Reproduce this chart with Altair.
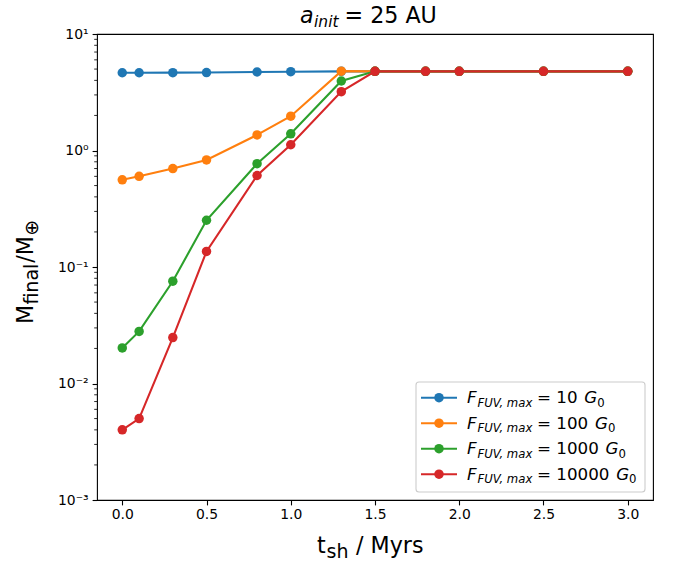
import altair as alt
import pandas as pd

# ---------------- data ----------------
t_sh = [0.0, 0.1, 0.3, 0.5, 0.8, 1.0, 1.3, 1.5, 1.8, 2.0, 2.5, 3.0]
m_10 = [4.65, 4.65, 4.66, 4.67, 4.72, 4.75, 4.78, 4.78, 4.78, 4.78, 4.78, 4.78]
m_100 = [0.56, 0.60, 0.70, 0.83, 1.36, 1.97, 4.80, 4.78, 4.78, 4.78, 4.78, 4.78]
m_1000 = [0.0202, 0.0280, 0.0755, 0.252, 0.77, 1.39, 3.95, 4.78, 4.78, 4.78, 4.78, 4.78]
m_10000 = [0.0040, 0.0050, 0.0248, 0.136, 0.61, 1.12, 3.20, 4.78, 4.78, 4.78, 4.78, 4.78]
series = [m_10, m_100, m_1000, m_10000]
fuv_levels = ['10', '100', '1000', '10000']
colors = ['#1f77b4', '#ff7f0e', '#2ca02c', '#d62728']

x_ticks = [0.0, 0.5, 1.0, 1.5, 2.0, 2.5, 3.0]
y_ticks = [0.001, 0.01, 0.1, 1, 10]
y_tick_labels = ['10⁻³', '10⁻²', '10⁻¹', '10⁰', '10¹']
y_minor = [m * 10.0 ** k for k in range(-3, 1) for m in range(2, 10)]

# ---------------- layout ----------------
W, H = 556, 466
FONT = 'DejaVu Sans'
LW = 2.08

one = pd.DataFrame({'k': [0]})

xs = alt.Scale(domain=[-0.15, 3.15], nice=False, zero=False)
ys = alt.Scale(type='log', domain=[0.001, 10], nice=False)

expr = (f"datum.value < 0.003 ? '{y_tick_labels[0]}' : datum.value < 0.03 ? '{y_tick_labels[1]}' : "
        f"datum.value < 0.3 ? '{y_tick_labels[2]}' : datum.value < 3 ? '{y_tick_labels[3]}' : '{y_tick_labels[4]}'")

xaxis = alt.Axis(values=x_ticks, format='.1f', title=None, grid=False, domain=False,
                 tickSize=4.9, tickWidth=1.1, tickColor='black', labelFontSize=13.9,
                 labelFont=FONT, labelColor='black', labelPadding=3)
yaxis = alt.Axis(values=y_ticks, labelExpr=expr, title=None, grid=False, domain=False,
                 tickSize=4.9, tickWidth=1.1, tickColor='black', labelFontSize=13.9,
                 labelFont=FONT, labelColor='black', labelPadding=4)

layers = []

# minor ticks on log axis
minor_df = pd.DataFrame({'v': y_minor})
layers.append(
    alt.Chart(minor_df).mark_rule(color='black', strokeWidth=0.83).encode(
        y=alt.Y('v:Q', scale=ys, axis=yaxis),
        x=alt.value(-2.8), x2=alt.value(0)
    )
)

for vals, col in zip(series, colors):
    d = pd.DataFrame({'t': t_sh, 'm': vals})
    base = alt.Chart(d).encode(
        x=alt.X('t:Q', scale=xs, axis=xaxis),
        y=alt.Y('m:Q', scale=ys, axis=yaxis),
    )
    layers.append(base.mark_line(color=col, strokeWidth=LW))
    layers.append(base.mark_circle(color=col, size=90, opacity=1))


def txt(s, x, y, size, style='normal', angle=0):
    return alt.Chart(one).mark_text(
        text=s, font=FONT, fontSize=size, fontStyle=style, angle=angle,
        align='left', baseline='alphabetic', color='black'
    ).encode(x=alt.value(x), y=alt.value(y))


# title  a_init = 25 AU
layers.append(txt('a', 203, -11.3, 22.2, 'italic'))
layers.append(txt('init', 217, -7.5, 15.5, 'italic'))
layers.append(txt('= 25 AU', 247.5, -11.3, 22.2))

# x label  t_sh / Myrs
SUB = 19
layers.append(txt('t', 220, 519, 22.2))
layers.append(txt('sh', 229.5, 523.5, SUB))
layers.append(txt('/ Myrs', 259, 519, 22.2))

# y label  M_final / M_⊕  (rotated)
y0 = 290
layers.append(txt('M', -64, y0, 22.2, angle=270))
layers.append(txt('final', -59.5, y0 - 19.4, SUB, angle=270))
layers.append(txt('/M', -64, y0 - 19.4 - 2.155 * SUB - 1, 22.2, angle=270))
layers.append(txt('⊕', -59.5, y0 - 19.4 - 2.155 * SUB - 1 - 26.8, SUB, angle=270))

# legend
layers.append(
    alt.Chart(one).mark_rect(fill='white', fillOpacity=0.8, stroke='#cccccc',
                             strokeWidth=1.1, cornerRadius=3).encode(
        x=alt.value(319), x2=alt.value(548), y=alt.value(348), y2=alt.value(458))
)
for i, (lev, col) in enumerate(zip(fuv_levels, colors)):
    yc = 363.7 + 25.5 * i
    layers.append(alt.Chart(one).mark_rule(color=col, strokeWidth=LW).encode(
        x=alt.value(324), x2=alt.value(360), y=alt.value(yc)))
    layers.append(alt.Chart(one).mark_circle(color=col, size=90, opacity=1).encode(
        x=alt.value(342), y=alt.value(yc)))
    layers.append(txt('F', 370, yc + 5.5, 16.7, 'italic'))
    layers.append(txt('FUV, max', 380.5, yc + 9, 11.7, 'italic'))
    layers.append(txt('= ' + lev, 440, yc + 5.5, 16.7))
    gx = 440 + (0.838 + 0.318 + 0.636 * len(lev) + 0.318) * 16.7 + 1.5
    layers.append(txt('G', gx, yc + 5.5, 16.7, 'italic'))
    layers.append(txt('0', gx + 12.9, yc + 9, 11.7))

chart = alt.layer(*layers).properties(
    width=W, height=H,
    autosize=alt.AutoSizeParams(type='none'),
    padding={'left': 97, 'top': 34, 'right': 23, 'bottom': 67},
    background='white',
).configure_view(stroke='black', strokeWidth=1.1)

chart.save("out.html", embed_options={"renderer": "svg", "actions": False})
